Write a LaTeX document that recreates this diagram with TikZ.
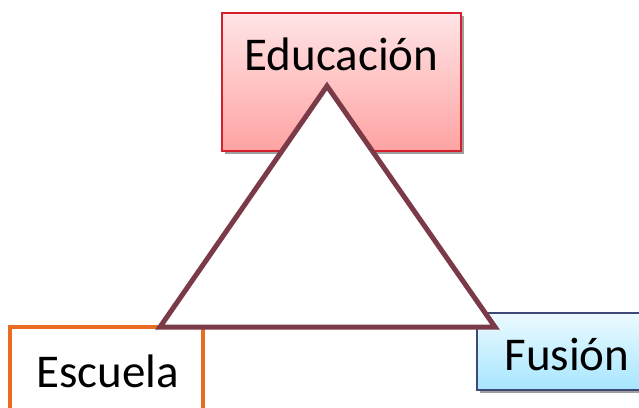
\documentclass[tikz,border=0pt]{standalone}
\usepackage{fontspec}
\setmainfont{Carlito}
\usetikzlibrary{shadows}

\definecolor{eduTop}{RGB}{255,228,230}
\definecolor{eduBot}{RGB}{255,163,163}
\definecolor{eduLine}{RGB}{212,32,44}
\definecolor{fusTop}{RGB}{236,250,255}
\definecolor{fusBot}{RGB}{166,230,255}
\definecolor{fusLine}{RGB}{62,72,122}
\definecolor{escLine}{RGB}{234,108,34}
\definecolor{triLine}{RGB}{123,58,72}

\tikzset{
  box/.style={rectangle, inner sep=0pt},
  boxshadow/.style={drop shadow={shadow xshift=3pt, shadow yshift=-3pt, fill=black!38, opacity=1}},
  lbl/.style={anchor=base, inner sep=0pt, font=\fontsize{47}{51}\selectfont},
  tri/.style={draw=triLine, line width=5pt, fill=white, line join=miter}
}

\begin{document}
\begin{tikzpicture}[x=1pt,y=-1pt]
        \useasboundingbox (0,0) rectangle (639,407);

        %Educacion box
        \node[box, boxshadow, draw=eduLine, line width=1.5pt, top color=eduTop, bottom color=eduBot,
              minimum width=239pt, minimum height=138pt] (edu) at (341.5,82) {};
        \node[lbl] (eduText) at (341.5,70) {Educación};

        %Escuela box (cut by the page)
        \node[box, draw=escLine, line width=4pt, fill=white,
              minimum width=193pt, minimum height=88pt] (esc) at (106.5,371) {};
        \node[lbl] (escText) at (107.5,387) {Escuela};

        %Fusion box
        \node[box, boxshadow, draw=fusLine, line width=1.5pt, top color=fusTop, bottom color=fusBot,
              minimum width=180pt, minimum height=77pt] (fus) at (567,351.5) {};
        \node[lbl] (fusText) at (567,370) {Fusión};

        %Triangle on top
        \coordinate (apex) at (327,86);
        \coordinate (left) at (160,327);
        \coordinate (right) at (495,327);
        \draw[tri] (apex) -- (left) -- (right) -- cycle;

\end{tikzpicture}
\end{document}
